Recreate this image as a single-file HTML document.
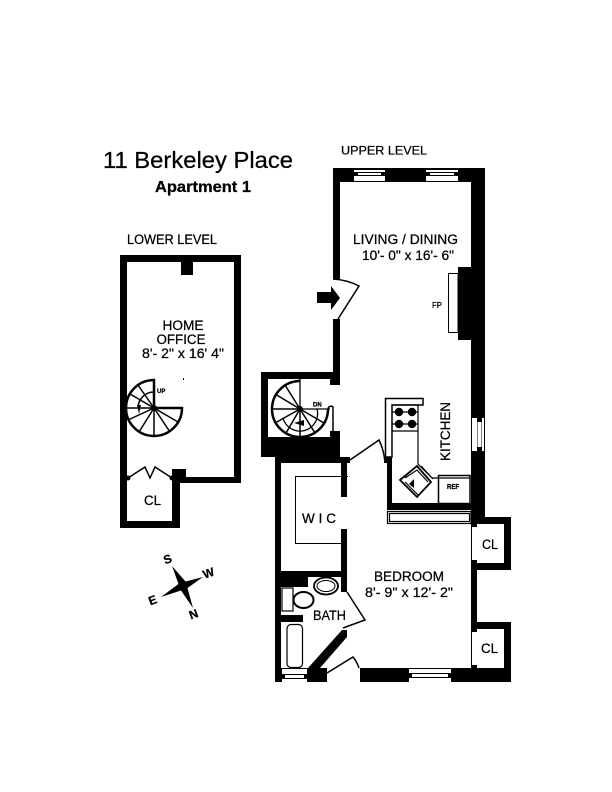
<!DOCTYPE html>
<html><head><meta charset="utf-8"><style>
html,body{margin:0;padding:0;background:#fff}
svg{display:block}
text{font-family:"Liberation Sans",sans-serif;fill:#000;stroke:#000;stroke-width:.25}
.t{font-size:13.5px}
</style></head><body>
<svg width="612" height="792" viewBox="0 0 612 792" xmlns="http://www.w3.org/2000/svg">
<rect width="612" height="792" fill="#fff"/>
<!-- titles -->
<text x="103" y="168" font-size="23" textLength="190" lengthAdjust="spacingAndGlyphs">11 Berkeley Place</text>
<text x="155" y="192" font-size="16" font-weight="bold" textLength="96" lengthAdjust="spacingAndGlyphs">Apartment 1</text>
<text class="t" x="127" y="244" textLength="90" lengthAdjust="spacingAndGlyphs">LOWER LEVEL</text>
<text class="t" x="341" y="154.500" font-size="12" style="font-size:12px" textLength="86" lengthAdjust="spacingAndGlyphs">UPPER LEVEL</text>

<!-- LOWER LEVEL walls -->
<g fill="#000" shape-rendering="crispEdges">
<rect x="120" y="255" width="121" height="7"/>
<rect x="120" y="255" width="7" height="273"/>
<rect x="234" y="255" width="7" height="228"/>
<rect x="172" y="477" width="69" height="6"/>
<rect x="172" y="469" width="14" height="14"/>
<rect x="172" y="477" width="8" height="51"/>
<rect x="120" y="521" width="60" height="7"/>
<rect x="181" y="262" width="12" height="13"/>
</g>
<polyline points="128,478 145,467 150,478 155,467 172,478" fill="none" stroke="#000" stroke-width="1.5"/>
<circle cx="128" cy="478" r="2.500"/><circle cx="172" cy="478" r="2.500"/>

<!-- lower stair -->
<g fill="none" stroke="#000">
<path d="M154 380 A28 28 0 1 0 182 408 L154 408 Z" stroke-width="2.500"/>
<path d="M154 408 L154 436 M154 408 L139 432 M154 408 L128 420 M154 408 L127 408 M154 408 L130 394 M154 408 L138 385 M154 408 L170 432 M154 408 L178 422 M154 408 L154 380" stroke-width="1.500"/>
<path d="M154 392 A16 16 0 0 0 138 408" stroke-width="1.500"/>
</g>
<circle cx="154" cy="408" r="3"/>
<path d="M137 405 L139 414 L141 405 Z"/>
<text x="157" y="393" font-size="6" font-weight="bold">UP</text>
<rect x="183" y="378" width="1" height="2"/>

<!-- UPPER LEVEL walls -->
<g fill="#000" shape-rendering="crispEdges">
<rect x="333" y="168" width="152" height="14"/>
<rect x="333" y="168" width="7" height="111"/>
<rect x="471" y="168" width="14" height="350"/>
<rect x="471" y="518" width="6" height="9"/>
<rect x="333" y="319" width="7" height="66"/>
<rect x="458" y="267" width="13" height="73"/>
<!-- stair room -->
<rect x="261" y="372" width="79" height="85"/>
<rect x="275" y="457" width="75" height="6"/>
<rect x="275" y="457" width="6" height="225"/>
<rect x="341" y="457" width="6" height="40"/>
<rect x="341" y="529" width="6" height="63"/>
<!-- kitchen -->
<rect x="387" y="457" width="5" height="53"/>
<rect x="384" y="457" width="8" height="6"/>
<rect x="387" y="503" width="84" height="7"/>
<!-- closets -->
<rect x="471" y="517" width="40" height="7"/>
<rect x="504" y="517" width="7" height="53"/>
<rect x="471" y="563" width="40" height="7"/>
<rect x="472" y="570" width="5" height="52"/>
<rect x="471" y="622" width="40" height="7"/>
<rect x="504" y="622" width="7" height="60"/>
<rect x="472" y="560" width="5" height="3"/>
<rect x="472" y="629" width="5" height="3"/>
<rect x="472" y="665" width="5" height="3"/>
<!-- bottom wall -->
<rect x="360" y="668" width="151" height="14"/>
<rect x="308" y="668" width="19" height="14"/>
<rect x="275" y="668" width="33" height="14"/>
<!-- bath -->
<rect x="281" y="571" width="62" height="6"/>
<rect x="281" y="577" width="27" height="10"/>
<rect x="281" y="615" width="22" height="7"/>
</g>
<rect x="471" y="517" width="1" height="151"/>
<polygon points="342,630 347,630 347,637 320,668 308,668" fill="#000"/>

<!-- white cut-outs -->
<g fill="#fff" shape-rendering="crispEdges">
<rect x="268" y="379" width="62" height="58"/>
<rect x="330" y="385" width="10" height="46"/>
<!-- top windows -->
<rect x="354" y="170" width="31" height="2"/><rect x="358" y="173" width="23" height="2"/><rect x="354" y="176" width="31" height="5"/>
<rect x="426" y="170" width="32" height="2"/><rect x="430" y="173" width="24" height="2"/><rect x="426" y="176" width="32" height="5"/>
<!-- kitchen window -->
<rect x="472" y="418" width="5" height="33"/><rect x="477.500" y="422" width="4" height="25"/><rect x="482" y="418" width="2" height="33"/>
<!-- bedroom window -->
<rect x="409" y="669" width="42" height="4"/><rect x="412" y="674" width="36" height="3"/><rect x="409" y="678" width="42" height="4"/>
<!-- bath window -->
<rect x="282" y="669" width="25" height="5"/><rect x="285" y="675" width="19" height="3"/><rect x="282" y="679" width="25" height="3"/>
</g>

<!-- upper stair -->
<g fill="none" stroke="#000">
<path d="M300 381 A28 28 0 1 0 328 409" stroke-width="2.500"/>
<path d="M300 409 L300 437 M300 409 L286 433 M300 409 L275 423 M300 409 L272 409 M300 409 L275 394 M300 409 L285 385 M300 409 L315 433 M300 409 L324 423" stroke-width="1.500"/>
<path d="M300 379 V409 H330 M317 409 A17 17 0 0 1 283 418" stroke-width="1.300"/>
<path d="M328 409 A3 3 0 0 1 333 407 V431" stroke-width="1.500"/>
</g>
<circle cx="300" cy="409" r="3"/>
<path d="M294 423 L304 420 L304 426 Z"/>
<text x="313" y="406.500" font-size="6" font-weight="bold">DN</text>

<!-- doors -->
<g fill="none" stroke="#000" stroke-width="1.500">
<path d="M333 279 Q348 280 359 286 L338 319"/>
<path d="M350 460 L379 440 Q384 450 385 463"/>
<path d="M347 592 L365 620 L343 628"/>
<path d="M327 673 L353 657 Q357 662 359 668"/>
</g>
<!-- entry arrow -->
<polygon points="317,292 331,292 331,286 340,298 331,310 331,303 317,303" fill="#000"/>

<!-- fireplace -->
<rect x="448.500" y="273.500" width="9.500" height="59" fill="#fff" stroke="#000"/>

<!-- kitchen fixtures -->
<g fill="none" stroke="#000" stroke-width="1.200">
<polygon points="385.500,398.500 423,398.500 423,405 392,405 392,457 385.500,457" stroke-width="1.500"/>
<path d="M392 405 H418 V464 L432 478 H438"/>
<path d="M392 431 H418"/>
<path d="M421 466 L433 479"/>
<polygon points="417,466 431,482 417,497 400,480" stroke-width="1.800"/>
<path d="M405 482 L418 495 M405 478 L417 470 L428 482"/>
<rect x="438.500" y="475.500" width="31.500" height="28" stroke-width="1.500"/>
<path d="M438 478 H470"/>
<rect x="387.500" y="511.500" width="83.500" height="12"/>
<rect x="389.500" y="513.500" width="80" height="8"/>
<path d="M392 412 H418 M392 424 H418"/>
</g>
<g fill="#000">
<circle cx="399" cy="412" r="4.200"/><circle cx="412" cy="412" r="4.200"/>
<circle cx="399" cy="424" r="4.200"/><circle cx="412" cy="424" r="4.200"/>
<path d="M409 484 L414 479 L414 488 Z"/>
</g>

<!-- WIC shelf -->
<path d="M348 476.500 H295.500 V543.500 H341" fill="none" stroke="#000" stroke-width="1"/>

<!-- bath fixtures -->
<g fill="none" stroke="#000">
<ellipse cx="326" cy="586" rx="12" ry="8.500" stroke-width="1.800"/>
<ellipse cx="326" cy="586" rx="9" ry="5.500" stroke-width="1"/>
<rect x="282" y="588" width="11" height="23" stroke-width="1.200"/>
<ellipse cx="303.500" cy="600" rx="10" ry="8" stroke-width="2"/>
<rect x="287" y="624.500" width="15.500" height="43" rx="4" stroke-width="1.200"/>
</g>

<!-- labels -->
<text class="t" x="183" y="330" text-anchor="middle" textLength="41" lengthAdjust="spacingAndGlyphs">HOME</text>
<text class="t" x="181" y="344" text-anchor="middle" textLength="49" lengthAdjust="spacingAndGlyphs">OFFICE</text>
<text class="t" x="142" y="358" textLength="82" lengthAdjust="spacingAndGlyphs">8'- 2" x 16' 4"</text>
<text class="t" x="144" y="505" textLength="17" lengthAdjust="spacingAndGlyphs">CL</text>
<text class="t" x="353" y="244" textLength="105" lengthAdjust="spacingAndGlyphs">LIVING / DINING</text>
<text class="t" x="362" y="260" textLength="92" lengthAdjust="spacingAndGlyphs">10'- 0" x 16'- 6"</text>
<text x="432" y="308" font-size="8" textLength="10" lengthAdjust="spacingAndGlyphs">FP</text>
<text class="t" transform="translate(450,461) rotate(-90)" textLength="59" lengthAdjust="spacingAndGlyphs">KITCHEN</text>
<text x="447" y="489" font-size="7" font-weight="bold" textLength="12" lengthAdjust="spacingAndGlyphs">REF</text>
<text class="t" x="302" y="523" textLength="34">W I C</text>
<text class="t" x="374" y="581" textLength="70" lengthAdjust="spacingAndGlyphs">BEDROOM</text>
<text class="t" x="365" y="597" textLength="88" lengthAdjust="spacingAndGlyphs">8'- 9" x 12'- 2"</text>
<text class="t" x="313" y="620" textLength="33" lengthAdjust="spacingAndGlyphs">BATH</text>
<text class="t" x="482" y="549" textLength="16" lengthAdjust="spacingAndGlyphs">CL</text>
<text class="t" x="481" y="653" textLength="17" lengthAdjust="spacingAndGlyphs">CL</text>

<!-- compass -->
<polygon points="172,566 185.500,581.500 203,577 187.500,588 193,608 181,590.500 161,597 178.500,584" fill="#000"/>
<g font-size="12" font-weight="bold" text-anchor="middle">
<text transform="translate(169,563) rotate(-20)">S</text>
<text transform="translate(210,577) rotate(-20)">W</text>
<text transform="translate(195,618) rotate(-20)">N</text>
<text transform="translate(154,604) rotate(-20)">E</text>
</g>
</svg>
</body></html>
